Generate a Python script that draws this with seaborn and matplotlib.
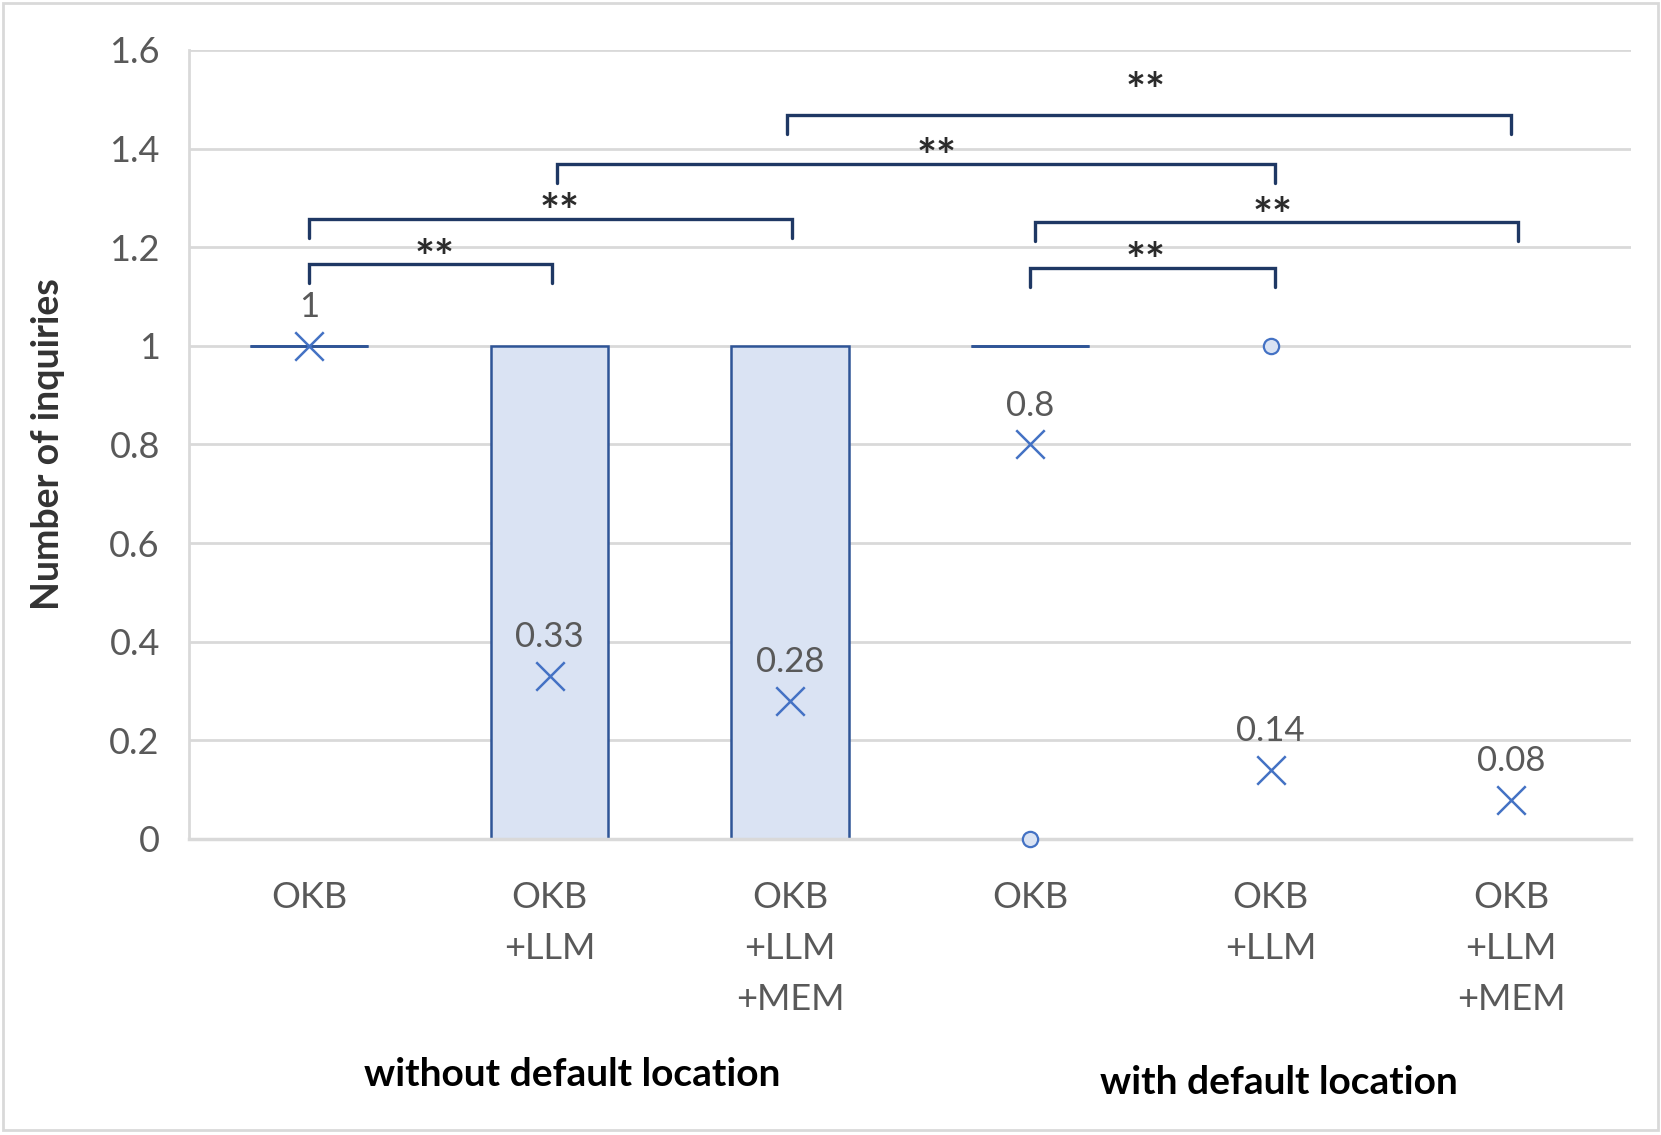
import numpy as np
import pandas as pd
import matplotlib.pyplot as plt
import matplotlib.transforms as mtransforms
from matplotlib.patches import Rectangle
from matplotlib.ticker import FuncFormatter
import seaborn as sns

# categories and box-plot summary values
categories = ["OKB", "OKB\n+LLM", "OKB\n+LLM\n+MEM", "OKB", "OKB\n+LLM", "OKB\n+LLM\n+MEM"]
q1 = [1, 0, 0, 1, 0, 0]
medians = [1, 0, 0, 1, 0, 0]
q3 = [1, 1, 1, 1, 0, 0]
whisker_low = [1, 0, 0, 1, 0, 0]
whisker_high = [1, 1, 1, 1, 0, 0]
means = [1, 0.33, 0.28, 0.8, 0.14, 0.08]
outliers = [[], [], [], [0], [1], []]

# significance brackets
bracket_x1 = [0.0, 0.0, 1.03, 1.99, 3.02, 3.0]
bracket_x2 = [1.01, 2.01, 4.02, 5.0, 5.03, 4.02]
bracket_y = [1.166, 1.257, 1.369, 1.468, 1.251, 1.158]
star_x = [0.52, 1.04, 2.61, 3.48, 4.01, 3.48]
star_y = [1.20, 1.292, 1.403, 1.537, 1.284, 1.194]
star_text = ["**"] * 6

group_labels = ["without default location", "with default location"]
group_x = [1.096, 4.035]
group_y = [-0.299, -0.309]

BLUE = "#2F5597"
FILL = "#DAE3F3"
GRID = "#D9D9D9"
NAVY = "#1F3864"

sns.set_theme(style="white")
plt.rcParams['font.family'] = ['Lato', 'DejaVu Sans']

fig = plt.figure(figsize=(16.61, 11.35), dpi=100)
ax = fig.add_axes([0.1138, 0.2608, 0.8682, 0.6952])

positions = np.arange(len(categories))
stats = []
for i in range(len(categories)):
    stats.append({"med": medians[i], "q1": q1[i], "q3": q3[i],
                  "whislo": whisker_low[i], "whishi": whisker_high[i],
                  "fliers": outliers[i], "mean": means[i]})

bp = ax.bxp(stats, positions=positions, widths=0.49, patch_artist=True,
            showcaps=False, showmeans=False,
            boxprops=dict(facecolor=FILL, edgecolor=BLUE, linewidth=1.8),
            medianprops=dict(color=BLUE, linewidth=2),
            whiskerprops=dict(color=BLUE, linewidth=1.8),
            flierprops=dict(marker='o', markersize=11, markerfacecolor=FILL,
                            markeredgecolor="#4472C4", markeredgewidth=1.6))
for fl in bp["fliers"]:
    fl.set_zorder(6)
    fl.set_clip_on(False)

mean_df = pd.DataFrame({"pos": positions, "mean": means})
sns.scatterplot(data=mean_df, x="pos", y="mean", marker="x", s=420,
                color="#4472C4", linewidth=1.8, ax=ax, zorder=4)

for p, m in zip(positions, means):
    ax.annotate(f"{m:g}", (p, m), xytext=(0, 28), textcoords="offset points",
                ha="center", va="center", fontsize=25, color="#595959")

for x1, x2, y in zip(bracket_x1, bracket_x2, bracket_y):
    ax.plot([x1, x1, x2, x2], [y - 0.038, y, y, y - 0.038], color=NAVY,
            lw=2.4, solid_joinstyle='miter', zorder=5)
for x, y, t in zip(star_x, star_y, star_text):
    ax.annotate(t, (x, y), xytext=(0, -19), textcoords="offset points",
                ha="center", va="baseline", fontsize=34, color="#2B2B2B",
                fontweight="bold")

ax.set_xlim(-0.5, 5.5)
ax.set_ylim(0, 1.6)
ax.set_yticks(np.arange(0, 1.61, 0.2))
ax.yaxis.set_major_formatter(FuncFormatter(lambda v, _: f"{v:g}"))
ax.set_xticks(positions)
ax.set_xticklabels(categories, linespacing=1.67)
ax.tick_params(axis='x', length=0, pad=30, labelsize=26, labelcolor="#595959")
ax.tick_params(axis='y', length=0, pad=21, labelsize=26, labelcolor="#595959")
ax.set_xlabel("")
ax.yaxis.grid(True, color=GRID, lw=2)
ax.set_axisbelow(True)
for s in ["top", "right"]:
    ax.spines[s].set_visible(False)
ax.spines["left"].set_color(GRID)
ax.spines["left"].set_linewidth(2)
ax.spines["bottom"].set_color(GRID)
ax.spines["bottom"].set_linewidth(2.5)

ax.set_ylabel("Number of inquiries", fontsize=27, fontweight="bold", color="#333333")
ax.yaxis.set_label_coords(-0.086, 0.5)

trans = mtransforms.blended_transform_factory(ax.transData, ax.transAxes)
for t, x, y in zip(group_labels, group_x, group_y):
    ax.text(x, y, t, transform=trans, ha="center", va="center",
            fontsize=28, fontweight="bold", color="black")

fig.patches.append(Rectangle((0.0018, 0.0044), 0.9964, 0.9929,
                             transform=fig.transFigure, fill=False,
                             edgecolor=GRID, lw=2))

fig.savefig("out.png", dpi=100)
